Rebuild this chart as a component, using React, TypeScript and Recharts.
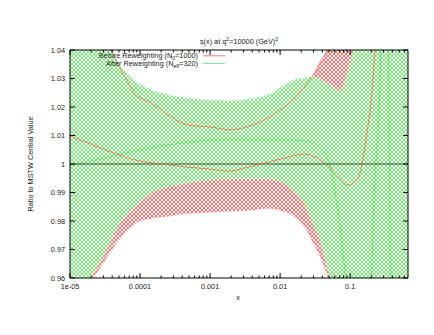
import React from "react";
import { Area, ComposedChart, Line, ReferenceLine, XAxis, YAxis } from "recharts";

// band edges, sampled on a shared x grid
const bandX = [
  1e-5, 1.64e-5, 2.13e-5, 2.77e-5, 3.73e-5, 4.85e-5, 6.11e-5, 8.48e-5, 1.44e-4, 2.51e-4,
  4.85e-4, 1e-3, 1.93e-3, 3.73e-3, 6.74e-3, 0.011, 0.0175, 0.0228, 0.0296, 0.0373,
  0.0485, 0.0611, 0.072, 0.0936, 0.126, 0.193, 0.67
];
const greenHi = [
  1.06, 1.055, 1.05, 1.045, 1.0408, 1.0359, 1.0327, 1.0292, 1.0261, 1.0243,
  1.0232, 1.0225, 1.0222, 1.0229, 1.0243, 1.0275, 1.0299, 1.0303, 1.0306, 1.0299,
  1.0282, 1.0264, 1.0254, 1.0331, 1.045, 1.06, 1.06
];
const greenLo = [
  0.93, 0.955, 0.9613, 0.9662, 0.9725, 0.9782, 0.9817, 0.9849, 0.9898, 0.9919,
  0.9933, 0.9944, 0.9947, 0.9947, 0.9947, 0.9933, 0.9894, 0.9856, 0.9789, 0.9732,
  0.962, 0.95, 0.945, 0.94, 0.94, 0.94, 0.94
];
const redHi = [
  1.06, 1.055, 1.05, 1.045, 1.0408, 1.0349, 1.0306, 1.0246, 1.0215, 1.0173,
  1.0137, 1.013, 1.012, 1.0134, 1.0162, 1.0197, 1.0239, 1.0275, 1.031, 1.0356,
  1.0408, 1.05, 1.06, 1.06, 1.06, 1.06, 1.06
];
const redLo = [
  0.93, 0.955, 0.9599, 0.9641, 0.969, 0.9732, 0.9761, 0.9792, 0.981, 0.9817,
  0.9827, 0.9831, 0.9835, 0.9838, 0.9845, 0.9835, 0.981, 0.9778, 0.9725, 0.9676,
  0.9599, 0.95, 0.94, 0.94, 0.94, 0.94, 0.94
];

// central values
const redMidX = [
  1e-5, 2.77e-5, 8.48e-5, 2e-4, 4.85e-4, 1e-3, 1.93e-3, 3.16e-3, 6.11e-3, 0.0118,
  0.0228, 0.0316, 0.0469, 0.072, 0.0936, 0.13, 0.175, 0.206, 0.228, 0.25
];
const redMid = [
  1.0099, 1.0056, 1.0014, 1.0, 0.9989, 0.9982, 0.9975, 0.9986, 1.0004, 1.0021,
  1.0035, 1.0025, 0.9996, 0.9947, 0.9926, 0.9951, 1.0116, 1.0257, 1.0408, 1.055
];
const greenMidX = [
  1e-5, 2.77e-5, 8.48e-5, 2.51e-4, 4.85e-4, 1.93e-3, 0.011, 0.0228, 0.0373, 0.0536,
  0.0611, 0.072, 0.085, 0.1, 0.17, 0.2, 0.22, 0.26, 0.28, 0.32, 0.35, 0.37, 0.38, 0.45
];
const greenMid = [
  0.9993, 1.0018, 1.0046, 1.0067, 1.0077, 1.0085, 1.0085, 1.0081, 1.0056, 0.9979,
  0.99, 0.978, 0.962, 0.95, 0.95, 0.96, 0.99, 1.02, 1.045, 1.06, 1.045, 0.98, 0.955, 0.94
];

const xMajorTicks = [1e-5, 1e-4, 1e-3, 1e-2, 1e-1];
const xTickLabels = ["1e-05", "0.0001", "0.001", "0.01", "0.1"];
const yTicks = [0.96, 0.97, 0.98, 0.99, 1, 1.01, 1.02, 1.03, 1.04];
const yTickLabels = ["0.96", "0.97", "0.98", "0.99", "1", "1.01", "1.02", "1.03", "1.04"];

const X_MAX = 0.67;
const xTicks: number[] = [];
xMajorTicks.forEach((d) => {
  for (let m = 1; m <= 9; m++) {
    const v = d * m;
    if (v <= X_MAX) xTicks.push(v);
  }
});

const bandData = bandX.map((x, i) => ({
  x,
  green: [greenLo[i], greenHi[i]],
  red: [redLo[i], redHi[i]],
  redLo: redLo[i],
  redHi: redHi[i]
}));
const redMidData = redMidX.map((x, i) => ({ x, v: redMid[i] }));
const greenMidData = greenMidX.map((x, i) => ({ x, v: greenMid[i] }));

const FONT = "'Liberation Sans', Arial, Helvetica, sans-serif";
const TEXT = "#1a1a1a";
const FS = 7.3;
const RED = "#f05a4a";
const GREEN = "#5ee85e";

function xLabel(v: number) {
  const i = xMajorTicks.findIndex((t) => Math.abs(Math.log10(t) - Math.log10(v)) < 1e-6);
  return i >= 0 ? xTickLabels[i] : null;
}

function yLabel(v: number) {
  const i = yTicks.findIndex((t) => Math.abs(t - v) < 1e-6);
  return i >= 0 ? yTickLabels[i] : "";
}

function BottomTick(props: any) {
  const { x, y, payload } = props;
  const label = xLabel(payload.value);
  return (
    <g>
      <line x1={x} x2={x} y1={y} y2={y - (label ? 5 : 2.5)} stroke="#000" />
      {label ? (
        <text x={x} y={y + 10.5} textAnchor="middle" fontSize={FS} fontFamily={FONT} fill={TEXT}>
          {label}
        </text>
      ) : null}
    </g>
  );
}

function TopTick(props: any) {
  const { x, y, payload } = props;
  const major = xLabel(payload.value) != null;
  return <line x1={x} x2={x} y1={y} y2={y + (major ? 5 : 2.5)} stroke="#000" />;
}

function LeftTick(props: any) {
  const { x, y, payload } = props;
  return (
    <g>
      <line x1={x} x2={x + 5} y1={y} y2={y} stroke="#000" />
      <text x={x - 5} y={y + 2.6} textAnchor="end" fontSize={FS} fontFamily={FONT} fill={TEXT}>
        {yLabel(payload.value)}
      </text>
    </g>
  );
}

function RightTick(props: any) {
  const { x, y } = props;
  return <line x1={x} x2={x - 5} y1={y} y2={y} stroke="#000" />;
}

const textStyle = { fontFamily: FONT, fontSize: FS, fill: TEXT };

export default function App() {
  return (
    <div style={{ position: "relative", width: 418, height: 318 }}>
      <svg width={0} height={0} style={{ position: "absolute" }}>
        <defs>
          <pattern id="hatchGreen" width={4} height={4} patternUnits="userSpaceOnUse">
            <rect width={4} height={4} fill="#fff" />
            <path d="M0,0L4,4M4,0L0,4" stroke="#44e644" strokeWidth={0.75} />
          </pattern>
          <pattern id="hatchRed" width={4} height={4} patternUnits="userSpaceOnUse">
            <rect width={4} height={4} fill="#fff" />
            <path d="M0,0L4,4M4,0L0,4" stroke="#ff4545" strokeWidth={0.8} />
          </pattern>
        </defs>
      </svg>
      <ComposedChart width={418} height={318} margin={{ top: 32, right: 8, bottom: 18, left: 22 }}>
        <XAxis
          xAxisId="bottom"
          dataKey="x"
          type="number"
          scale="log"
          domain={[1e-5, X_MAX]}
          allowDataOverflow
          ticks={xTicks}
          interval={0}
          height={30}
          tickSize={0}
          tickMargin={0}
          tickLine={false}
          tick={BottomTick}
          stroke="#000"
        />
        <XAxis
          xAxisId="top"
          orientation="top"
          dataKey="x"
          type="number"
          scale="log"
          domain={[1e-5, X_MAX]}
          allowDataOverflow
          ticks={xTicks}
          interval={0}
          height={10}
          tickSize={0}
          tickMargin={0}
          tickLine={false}
          tick={TopTick}
          stroke="#000"
        />
        <YAxis
          yAxisId="left"
          type="number"
          domain={[0.96, 1.04]}
          allowDataOverflow
          ticks={yTicks}
          interval={0}
          width={40}
          tickSize={0}
          tickMargin={0}
          tickLine={false}
          tick={LeftTick}
          stroke="#000"
        />
        <YAxis
          yAxisId="right"
          orientation="right"
          type="number"
          domain={[0.96, 1.04]}
          allowDataOverflow
          ticks={yTicks}
          interval={0}
          width={10}
          tickSize={0}
          tickMargin={0}
          tickLine={false}
          tick={RightTick}
          stroke="#000"
        />
        <Area
          xAxisId="bottom"
          yAxisId="left"
          data={bandData}
          dataKey="red"
          type="monotone"
          stroke="none"
          fill="url(#hatchRed)"
          fillOpacity={1}
          isAnimationActive={false}
        />
        <Area
          xAxisId="bottom"
          yAxisId="left"
          data={bandData}
          dataKey="green"
          type="monotone"
          stroke="none"
          fill="url(#hatchGreen)"
          fillOpacity={1}
          isAnimationActive={false}
        />
        <Line
          xAxisId="bottom"
          yAxisId="left"
          data={bandData}
          dataKey="redHi"
          type="monotone"
          stroke={RED}
          strokeWidth={0.8}
          dot={false}
          activeDot={false}
          isAnimationActive={false}
        />
        <Line
          xAxisId="bottom"
          yAxisId="left"
          data={bandData}
          dataKey="redLo"
          type="monotone"
          stroke={RED}
          strokeWidth={0.5}
          strokeOpacity={0.5}
          dot={false}
          activeDot={false}
          isAnimationActive={false}
        />
        <Line
          xAxisId="bottom"
          yAxisId="left"
          data={greenMidData}
          dataKey="v"
          type="monotone"
          stroke="#3ad43a"
          strokeWidth={0.6}
          dot={false}
          activeDot={false}
          isAnimationActive={false}
        />
        <ReferenceLine xAxisId="bottom" yAxisId="left" y={1} stroke="#444" strokeWidth={1} />
        <Line
          xAxisId="bottom"
          yAxisId="left"
          data={redMidData}
          dataKey="v"
          type="monotone"
          stroke={RED}
          strokeWidth={0.8}
          dot={false}
          activeDot={false}
          isAnimationActive={false}
        />
      </ComposedChart>
      <svg
        width={418}
        height={318}
        style={{ position: "absolute", left: 0, top: 0, pointerEvents: "none" }}
      >
        <text x={231} y={35.5} textAnchor="middle" style={textStyle}>
          s(x) at q<tspan dy={-3} fontSize={5.2}>2</tspan>
          <tspan dy={3}>=10000 (GeV)</tspan>
          <tspan dy={-3} fontSize={5.2}>2</tspan>
        </text>
        <text x={190} y={50.3} textAnchor="end" style={textStyle}>
          Before Reweighting (N<tspan dy={1.8} fontSize={5.2}>0</tspan>
          <tspan dy={-1.8}>=1000)</tspan>
        </text>
        <line x1={195} x2={217} y1={47.8} y2={47.8} stroke={RED} strokeWidth={0.8} />
        <text x={190} y={57.8} textAnchor="end" style={textStyle}>
          After Reweighting (N<tspan dy={1.8} fontSize={5.2}>eff</tspan>
          <tspan dy={-1.8}>=320)</tspan>
        </text>
        <line x1={195} x2={217} y1={55.5} y2={55.5} stroke={GREEN} strokeWidth={0.8} />
        <text x={25} y={156} textAnchor="middle" transform="rotate(-90 25 156)" style={textStyle}>
          Ratio to MSTW Central Value
        </text>
        <text x={230} y={292} textAnchor="middle" style={textStyle}>
          x
        </text>
      </svg>
    </div>
  );
}
